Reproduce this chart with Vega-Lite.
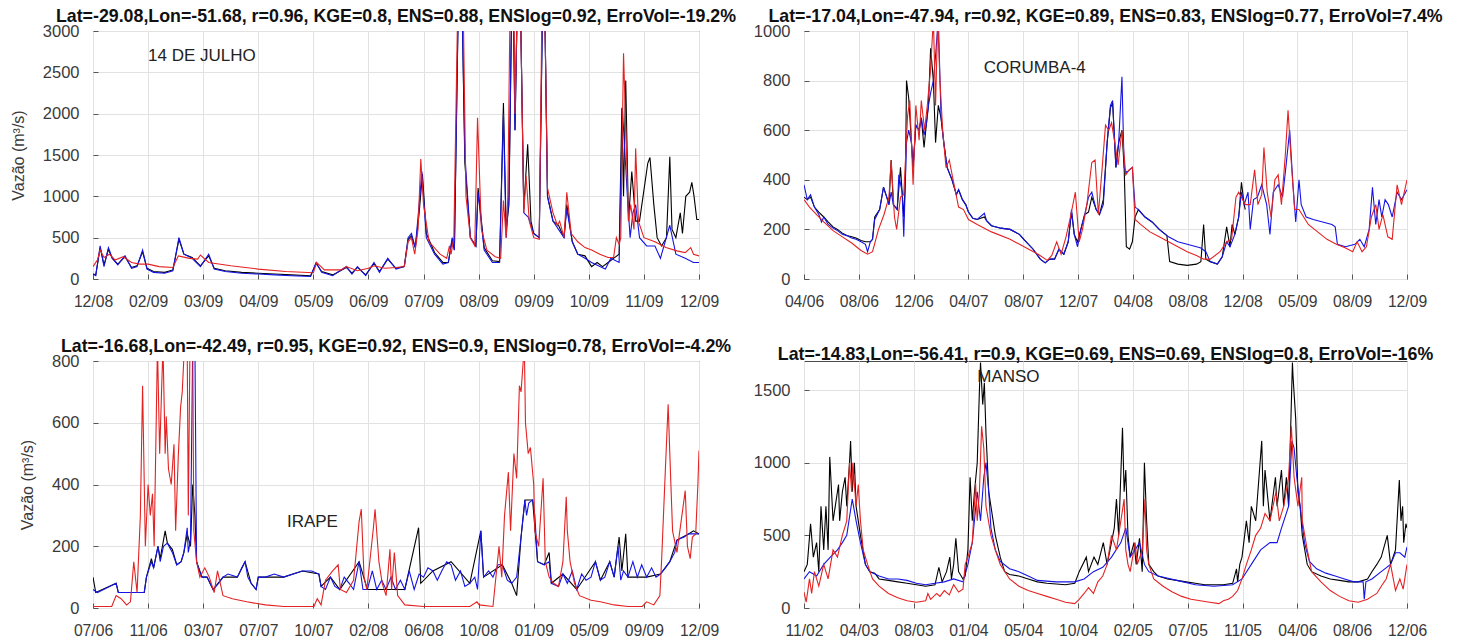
{
"$schema": "https://vega.github.io/schema/vega-lite/v6.json",
"padding": {"left": 9, "top": 7, "right": 0, "bottom": 0},
"background": "white",
"config": {
  "view": {"stroke": "#4a4a4a", "strokeWidth": 1},
  "mark": {"invalid": "filter"},
  "axis": {"gridColor": "#e2e2e2", "gridWidth": 1, "domain": false, "ticks": true, "tickSize": -5, "tickColor": "#555", "labelFont": "Liberation Sans", "labelColor": "#3a3a3a", "labelOverlap": false, "labelFlush": false, "titleFont": "Liberation Sans", "titleFontSize": 16, "titleFontWeight": "normal", "titleColor": "#3a3a3a"},
  "axisX": {"labelFontSize": 15.7, "labelPadding": 20},
  "axisY": {"labelFontSize": 16.5, "labelPadding": 19, "titlePadding": 16, "format": "d"},
  "title": {"font": "Liberation Sans", "fontSize": 17.8, "fontWeight": "bold", "color": "#111", "offset": -3},
  "line": {"strokeWidth": 1.1, "invalid": "filter"},
  "text": {"font": "Liberation Sans", "fontSize": 17, "color": "#222", "align": "left", "baseline": "middle"}
},
"datasets": {
"p1": [
{"t":0,"o":60},{"t":0.05,"o":50},{"t":0.13,"o":380},{"t":0.2,"o":170},{"t":0.28,"o":360},{"t":0.35,"o":250},{"t":0.45,"o":180},{"t":0.58,"o":270},{"t":0.7,"o":140},{"t":0.8,"o":160},{"t":0.9,"o":330},{"t":0.98,"o":130},{"t":1.1,"o":90},{"t":1.3,"o":80},{"t":1.45,"o":110},{"t":1.56,"o":480},{"t":1.65,"o":300},{"t":1.8,"o":260},{"t":1.95,"o":160},{"t":2.1,"o":280},{"t":2.2,"o":130},{"t":2.4,"o":100},{"t":2.7,"o":80},{"t":3.0,"o":70},{"t":3.3,"o":60},{"t":3.6,"o":50},{"t":3.95,"o":40},{"t":4.05,"o":190},{"t":4.15,"o":90},{"t":4.35,"o":50},{"t":4.6,"o":140},{"t":4.7,"o":70},{"t":4.8,"o":140},{"t":4.95,"o":50},{"t":5.1,"o":190},{"t":5.2,"o":90},{"t":5.35,"o":240},{"t":5.5,"o":130},{"t":5.65,"o":150},{"t":5.72,"o":480},{"t":5.78,"o":520},{"t":5.85,"o":380},{"t":5.92,"o":800},{"t":5.98,"o":1270},{"t":6.05,"o":550},{"t":6.2,"o":320},{"t":6.35,"o":200},{"t":6.45,"o":200},{"t":6.52,"o":480},{"t":6.56,"o":350},{"t":6.63,"o":3300},{"t":6.7,"o":3300},{"t":6.75,"o":1400},{"t":6.85,"o":500},{"t":6.95,"o":400},{"t":6.99,"o":1100},{"t":7.1,"o":380},{"t":7.25,"o":220},{"t":7.38,"o":210},{"t":7.45,"o":2130},{"t":7.5,"o":600},{"t":7.55,"o":900},{"t":7.6,"o":3300},{"t":7.63,"o":3300},{"t":7.66,"o":1800},{"t":7.7,"o":3300},{"t":7.76,"o":3300},{"t":7.82,"o":850},{"t":7.89,"o":1630},{"t":7.95,"o":700},{"t":8.0,"o":550},{"t":8.1,"o":500},{"t":8.16,"o":3300},{"t":8.2,"o":3300},{"t":8.25,"o":1000},{"t":8.35,"o":700},{"t":8.45,"o":650},{"t":8.55,"o":500},{"t":8.6,"o":900},{"t":8.7,"o":450},{"t":8.8,"o":300},{"t":8.93,"o":280},{"t":9.05,"o":150},{"t":9.15,"o":200},{"t":9.25,"o":150},{"t":9.35,"o":200},{"t":9.45,"o":250},{"t":9.55,"o":300},{"t":9.6,"o":2070},{"t":9.63,"o":1000},{"t":9.67,"o":2400},{"t":9.72,"o":700},{"t":9.78,"o":1300},{"t":9.85,"o":700},{"t":9.92,"o":700},{"t":10.07,"o":1400},{"t":10.11,"o":1470},{"t":10.18,"o":900},{"t":10.24,"o":500},{"t":10.32,"o":400},{"t":10.41,"o":500},{"t":10.47,"o":1480},{"t":10.51,"o":600},{"t":10.58,"o":500},{"t":10.66,"o":800},{"t":10.7,"o":550},{"t":10.76,"o":1000},{"t":10.83,"o":1050},{"t":10.87,"o":1170},{"t":10.91,"o":1000},{"t":10.96,"o":720},{"t":11,"o":720},
{"t":0,"b":60},{"t":0.05,"b":40},{"t":0.13,"b":400},{"t":0.2,"b":150},{"t":0.28,"b":380},{"t":0.35,"b":250},{"t":0.45,"b":170},{"t":0.58,"b":280},{"t":0.7,"b":130},{"t":0.8,"b":150},{"t":0.9,"b":350},{"t":0.98,"b":120},{"t":1.1,"b":80},{"t":1.3,"b":70},{"t":1.45,"b":100},{"t":1.56,"b":500},{"t":1.65,"b":300},{"t":1.8,"b":250},{"t":1.95,"b":150},{"t":2.1,"b":300},{"t":2.2,"b":120},{"t":2.4,"b":90},{"t":2.7,"b":70},{"t":3.0,"b":60},{"t":3.3,"b":50},{"t":3.6,"b":40},{"t":3.95,"b":30},{"t":4.05,"b":200},{"t":4.15,"b":80},{"t":4.35,"b":40},{"t":4.6,"b":150},{"t":4.7,"b":60},{"t":4.8,"b":150},{"t":4.95,"b":40},{"t":5.1,"b":200},{"t":5.2,"b":80},{"t":5.35,"b":250},{"t":5.5,"b":120},{"t":5.65,"b":150},{"t":5.72,"b":500},{"t":5.78,"b":550},{"t":5.85,"b":380},{"t":5.92,"b":900},{"t":5.97,"b":1300},{"t":6.05,"b":500},{"t":6.2,"b":300},{"t":6.35,"b":180},{"t":6.45,"b":200},{"t":6.52,"b":500},{"t":6.56,"b":350},{"t":6.63,"b":3300},{"t":6.7,"b":3300},{"t":6.75,"b":1500},{"t":6.85,"b":500},{"t":6.95,"b":400},{"t":6.99,"b":1050},{"t":7.1,"b":350},{"t":7.25,"b":200},{"t":7.38,"b":200},{"t":7.45,"b":2000},{"t":7.5,"b":500},{"t":7.55,"b":1000},{"t":7.6,"b":3300},{"t":7.63,"b":3300},{"t":7.66,"b":1800},{"t":7.7,"b":3300},{"t":7.76,"b":3300},{"t":7.82,"b":800},{"t":7.9,"b":750},{"t":8.0,"b":550},{"t":8.1,"b":500},{"t":8.16,"b":3300},{"t":8.2,"b":3300},{"t":8.25,"b":1000},{"t":8.35,"b":700},{"t":8.45,"b":600},{"t":8.55,"b":500},{"t":8.6,"b":850},{"t":8.7,"b":450},{"t":8.8,"b":300},{"t":8.93,"b":250},{"t":9.05,"b":200},{"t":9.2,"b":150},{"t":9.3,"b":120},{"t":9.4,"b":250},{"t":9.55,"b":200},{"t":9.61,"b":2050},{"t":9.7,"b":1000},{"t":9.75,"b":500},{"t":9.8,"b":800},{"t":9.85,"b":900},{"t":9.92,"b":500},{"t":10.05,"b":400},{"t":10.2,"b":400},{"t":10.3,"b":250},{"t":10.47,"b":650},{"t":10.58,"b":300},{"t":10.75,"b":250},{"t":10.9,"b":200},{"t":11,"b":200},
{"t":0,"r":150},{"t":0.08,"r":230},{"t":0.13,"r":350},{"t":0.2,"r":260},{"t":0.3,"r":300},{"t":0.4,"r":230},{"t":0.55,"r":270},{"t":0.7,"r":200},{"t":0.85,"r":180},{"t":1.0,"r":180},{"t":1.2,"r":150},{"t":1.45,"r":140},{"t":1.55,"r":280},{"t":1.75,"r":250},{"t":1.9,"r":240},{"t":1.95,"r":290},{"t":2.1,"r":200},{"t":2.5,"r":160},{"t":3.0,"r":120},{"t":3.5,"r":90},{"t":4.0,"r":75},{"t":4.06,"r":200},{"t":4.2,"r":110},{"t":4.5,"r":110},{"t":4.6,"r":150},{"t":4.8,"r":100},{"t":5.0,"r":130},{"t":5.1,"r":160},{"t":5.3,"r":130},{"t":5.5,"r":140},{"t":5.65,"r":150},{"t":5.72,"r":450},{"t":5.78,"r":500},{"t":5.84,"r":300},{"t":5.9,"r":600},{"t":5.95,"r":1450},{"t":6.0,"r":900},{"t":6.1,"r":450},{"t":6.3,"r":300},{"t":6.42,"r":250},{"t":6.47,"r":400},{"t":6.5,"r":300},{"t":6.55,"r":500},{"t":6.62,"r":3300},{"t":6.72,"r":3300},{"t":6.77,"r":1000},{"t":6.85,"r":500},{"t":6.93,"r":400},{"t":6.98,"r":1950},{"t":7.05,"r":600},{"t":7.15,"r":350},{"t":7.3,"r":270},{"t":7.4,"r":250},{"t":7.45,"r":950},{"t":7.5,"r":500},{"t":7.53,"r":1000},{"t":7.57,"r":3300},{"t":7.64,"r":3300},{"t":7.66,"r":2000},{"t":7.7,"r":3300},{"t":7.76,"r":3300},{"t":7.82,"r":800},{"t":7.86,"r":1250},{"t":7.92,"r":700},{"t":8.0,"r":500},{"t":8.1,"r":480},{"t":8.15,"r":3300},{"t":8.2,"r":3300},{"t":8.25,"r":1100},{"t":8.35,"r":800},{"t":8.43,"r":650},{"t":8.47,"r":700},{"t":8.55,"r":500},{"t":8.6,"r":1050},{"t":8.68,"r":550},{"t":8.8,"r":450},{"t":8.93,"r":380},{"t":9.05,"r":350},{"t":9.2,"r":300},{"t":9.35,"r":260},{"t":9.45,"r":260},{"t":9.5,"r":500},{"t":9.55,"r":420},{"t":9.58,"r":500},{"t":9.63,"r":2730},{"t":9.72,"r":700},{"t":9.76,"r":900},{"t":9.82,"r":600},{"t":9.85,"r":1580},{"t":9.9,"r":700},{"t":10.0,"r":500},{"t":10.2,"r":450},{"t":10.4,"r":380},{"t":10.6,"r":340},{"t":10.75,"r":320},{"t":10.85,"r":380},{"t":10.9,"r":300},{"t":11,"r":280}
],
"p2": [
{"t":0,"o":330},{"t":0.06,"o":320},{"t":0.12,"o":330},{"t":0.19,"o":290},{"t":0.27,"o":270},{"t":0.36,"o":250},{"t":0.44,"o":230},{"t":0.53,"o":210},{"t":0.61,"o":200},{"t":0.7,"o":185},{"t":0.78,"o":175},{"t":0.87,"o":170},{"t":0.95,"o":165},{"t":1.04,"o":155},{"t":1.12,"o":150},{"t":1.21,"o":150},{"t":1.25,"o":160},{"t":1.29,"o":250},{"t":1.38,"o":280},{"t":1.45,"o":370},{"t":1.51,"o":330},{"t":1.55,"o":300},{"t":1.59,"o":480},{"t":1.63,"o":300},{"t":1.7,"o":280},{"t":1.76,"o":450},{"t":1.79,"o":350},{"t":1.82,"o":250},{"t":1.85,"o":400},{"t":1.87,"o":800},{"t":1.91,"o":730},{"t":1.96,"o":550},{"t":1.99,"o":450},{"t":2.04,"o":620},{"t":2.1,"o":600},{"t":2.14,"o":650},{"t":2.19,"o":530},{"t":2.23,"o":620},{"t":2.27,"o":700},{"t":2.31,"o":930},{"t":2.36,"o":800},{"t":2.4,"o":550},{"t":2.45,"o":700},{"t":2.5,"o":650},{"t":2.55,"o":550},{"t":2.61,"o":450},{"t":2.7,"o":400},{"t":2.78,"o":340},{"t":2.82,"o":360},{"t":2.89,"o":320},{"t":2.95,"o":300},{"t":3.0,"o":270},{"t":3.08,"o":245},{"t":3.16,"o":240},{"t":3.29,"o":250},{"t":3.33,"o":235},{"t":3.42,"o":215},{"t":3.59,"o":205},{"t":3.76,"o":200},{"t":3.93,"o":180},{"t":4.01,"o":160},{"t":4.18,"o":120},{"t":4.31,"o":80},{"t":4.4,"o":65},{"t":4.48,"o":80},{"t":4.57,"o":80},{"t":4.65,"o":120},{"t":4.74,"o":100},{"t":4.82,"o":150},{"t":4.88,"o":270},{"t":4.93,"o":180},{"t":4.99,"o":150},{"t":5.05,"o":200},{"t":5.12,"o":260},{"t":5.19,"o":270},{"t":5.25,"o":330},{"t":5.33,"o":280},{"t":5.39,"o":260},{"t":5.46,"o":320},{"t":5.53,"o":550},{"t":5.59,"o":690},{"t":5.63,"o":710},{"t":5.69,"o":450},{"t":5.74,"o":550},{"t":5.8,"o":600},{"t":5.84,"o":450},{"t":5.88,"o":130},{"t":5.94,"o":120},{"t":5.99,"o":150},{"t":6.04,"o":250},{"t":6.1,"o":280},{"t":6.22,"o":250},{"t":6.35,"o":230},{"t":6.48,"o":200},{"t":6.62,"o":175},{"t":6.67,"o":70},{"t":6.82,"o":60},{"t":6.99,"o":55},{"t":7.16,"o":60},{"t":7.24,"o":70},{"t":7.29,"o":220},{"t":7.33,"o":80},{"t":7.41,"o":70},{"t":7.54,"o":60},{"t":7.63,"o":90},{"t":7.71,"o":210},{"t":7.77,"o":130},{"t":7.81,"o":220},{"t":7.86,"o":180},{"t":7.93,"o":250},{"t":7.98,"o":390},{"t":8.03,"o":300},{"t":8.05,"o":280},
{"t":0,"b":380},{"t":0.06,"b":320},{"t":0.12,"b":340},{"t":0.19,"b":290},{"t":0.27,"b":260},{"t":0.32,"b":230},{"t":0.36,"b":250},{"t":0.44,"b":220},{"t":0.53,"b":205},{"t":0.61,"b":195},{"t":0.7,"b":180},{"t":0.78,"b":175},{"t":0.87,"b":165},{"t":0.95,"b":160},{"t":1.04,"b":150},{"t":1.12,"b":140},{"t":1.16,"b":110},{"t":1.21,"b":150},{"t":1.25,"b":160},{"t":1.29,"b":240},{"t":1.38,"b":280},{"t":1.45,"b":370},{"t":1.51,"b":330},{"t":1.55,"b":300},{"t":1.59,"b":350},{"t":1.63,"b":300},{"t":1.7,"b":280},{"t":1.73,"b":420},{"t":1.79,"b":350},{"t":1.82,"b":170},{"t":1.85,"b":400},{"t":1.87,"b":550},{"t":1.91,"b":600},{"t":1.96,"b":550},{"t":1.99,"b":450},{"t":2.04,"b":620},{"t":2.1,"b":600},{"t":2.14,"b":650},{"t":2.19,"b":580},{"t":2.23,"b":620},{"t":2.27,"b":700},{"t":2.31,"b":750},{"t":2.36,"b":800},{"t":2.4,"b":900},{"t":2.45,"b":1050},{"t":2.5,"b":650},{"t":2.55,"b":550},{"t":2.61,"b":450},{"t":2.7,"b":400},{"t":2.78,"b":340},{"t":2.82,"b":360},{"t":2.89,"b":320},{"t":2.95,"b":300},{"t":3.0,"b":270},{"t":3.08,"b":245},{"t":3.16,"b":240},{"t":3.29,"b":265},{"t":3.33,"b":235},{"t":3.42,"b":215},{"t":3.59,"b":205},{"t":3.76,"b":200},{"t":3.93,"b":180},{"t":4.01,"b":160},{"t":4.18,"b":120},{"t":4.31,"b":80},{"t":4.4,"b":65},{"t":4.48,"b":80},{"t":4.57,"b":80},{"t":4.65,"b":120},{"t":4.74,"b":100},{"t":4.82,"b":150},{"t":4.88,"b":280},{"t":4.93,"b":180},{"t":4.99,"b":130},{"t":5.05,"b":200},{"t":5.12,"b":260},{"t":5.19,"b":330},{"t":5.25,"b":350},{"t":5.33,"b":280},{"t":5.39,"b":260},{"t":5.46,"b":300},{"t":5.53,"b":550},{"t":5.59,"b":700},{"t":5.63,"b":720},{"t":5.69,"b":450},{"t":5.74,"b":550},{"t":5.8,"b":815},{"t":5.84,"b":450},{"t":5.88,"b":430},{"t":5.94,"b":440},{"t":5.99,"b":450},{"t":6.04,"b":290},{"t":6.1,"b":280},{"t":6.22,"b":250},{"t":6.35,"b":230},{"t":6.48,"b":200},{"t":6.65,"b":170},{"t":6.82,"b":150},{"t":6.99,"b":140},{"t":7.16,"b":130},{"t":7.24,"b":125},{"t":7.33,"b":110},{"t":7.41,"b":70},{"t":7.54,"b":60},{"t":7.63,"b":90},{"t":7.71,"b":150},{"t":7.77,"b":130},{"t":7.86,"b":180},{"t":7.93,"b":250},{"t":7.98,"b":350},{"t":8.03,"b":300},{"t":8.1,"b":350},{"t":8.14,"b":200},{"t":8.2,"b":320},{"t":8.27,"b":330},{"t":8.35,"b":380},{"t":8.44,"b":300},{"t":8.5,"b":180},{"t":8.56,"b":350},{"t":8.65,"b":380},{"t":8.73,"b":330},{"t":8.79,"b":450},{"t":8.86,"b":600},{"t":8.92,"b":380},{"t":8.97,"b":230},{"t":9.03,"b":400},{"t":9.07,"b":300},{"t":9.16,"b":250},{"t":9.29,"b":240},{"t":9.46,"b":230},{"t":9.63,"b":220},{"t":9.69,"b":210},{"t":9.73,"b":140},{"t":9.88,"b":130},{"t":10.05,"b":140},{"t":10.14,"b":160},{"t":10.22,"b":130},{"t":10.31,"b":200},{"t":10.37,"b":370},{"t":10.43,"b":220},{"t":10.49,"b":320},{"t":10.54,"b":250},{"t":10.6,"b":320},{"t":10.66,"b":300},{"t":10.73,"b":250},{"t":10.82,"b":350},{"t":10.9,"b":320},{"t":11,"b":360},
{"t":0,"r":320},{"t":0.1,"r":290},{"t":0.23,"r":260},{"t":0.36,"r":230},{"t":0.53,"r":195},{"t":0.7,"r":170},{"t":0.87,"r":145},{"t":1.04,"r":115},{"t":1.16,"r":100},{"t":1.25,"r":110},{"t":1.36,"r":200},{"t":1.46,"r":260},{"t":1.55,"r":330},{"t":1.59,"r":480},{"t":1.65,"r":250},{"t":1.69,"r":200},{"t":1.76,"r":330},{"t":1.82,"r":340},{"t":1.89,"r":660},{"t":1.93,"r":720},{"t":1.99,"r":380},{"t":2.04,"r":700},{"t":2.1,"r":560},{"t":2.14,"r":720},{"t":2.2,"r":600},{"t":2.25,"r":700},{"t":2.31,"r":850},{"t":2.36,"r":1050},{"t":2.4,"r":700},{"t":2.44,"r":1050},{"t":2.48,"r":800},{"t":2.53,"r":600},{"t":2.59,"r":450},{"t":2.65,"r":480},{"t":2.72,"r":400},{"t":2.82,"r":290},{"t":2.91,"r":280},{"t":3.0,"r":240},{"t":3.16,"r":220},{"t":3.42,"r":190},{"t":3.76,"r":160},{"t":4.1,"r":120},{"t":4.27,"r":100},{"t":4.44,"r":75},{"t":4.52,"r":95},{"t":4.61,"r":150},{"t":4.69,"r":100},{"t":4.78,"r":170},{"t":4.86,"r":250},{"t":4.95,"r":350},{"t":5.02,"r":150},{"t":5.08,"r":200},{"t":5.16,"r":300},{"t":5.25,"r":470},{"t":5.31,"r":480},{"t":5.37,"r":260},{"t":5.44,"r":450},{"t":5.5,"r":620},{"t":5.56,"r":600},{"t":5.61,"r":630},{"t":5.67,"r":550},{"t":5.73,"r":460},{"t":5.8,"r":600},{"t":5.87,"r":420},{"t":5.93,"r":440},{"t":5.99,"r":450},{"t":6.04,"r":240},{"t":6.14,"r":220},{"t":6.31,"r":190},{"t":6.48,"r":170},{"t":6.65,"r":150},{"t":6.82,"r":130},{"t":6.99,"r":110},{"t":7.16,"r":95},{"t":7.29,"r":80},{"t":7.41,"r":80},{"t":7.59,"r":110},{"t":7.71,"r":150},{"t":7.8,"r":160},{"t":7.88,"r":330},{"t":7.93,"r":350},{"t":7.98,"r":330},{"t":8.05,"r":300},{"t":8.14,"r":300},{"t":8.22,"r":440},{"t":8.28,"r":300},{"t":8.35,"r":340},{"t":8.39,"r":530},{"t":8.45,"r":350},{"t":8.52,"r":250},{"t":8.59,"r":400},{"t":8.65,"r":420},{"t":8.71,"r":300},{"t":8.78,"r":500},{"t":8.83,"r":680},{"t":8.88,"r":500},{"t":8.95,"r":280},{"t":9.03,"r":280},{"t":9.2,"r":220},{"t":9.37,"r":190},{"t":9.54,"r":160},{"t":9.71,"r":140},{"t":9.88,"r":125},{"t":10.01,"r":110},{"t":10.09,"r":150},{"t":10.18,"r":110},{"t":10.26,"r":130},{"t":10.35,"r":250},{"t":10.43,"r":300},{"t":10.49,"r":200},{"t":10.56,"r":260},{"t":10.65,"r":170},{"t":10.73,"r":160},{"t":10.82,"r":380},{"t":10.9,"r":300},{"t":11,"r":400}
],
"p3": [
{"t":0,"o":100},{"t":0.05,"o":50},{"t":0.42,"o":80},{"t":0.46,"o":50},{"t":0.93,"o":50},{"t":0.97,"o":100},{"t":1.06,"o":160},{"t":1.1,"o":130},{"t":1.18,"o":200},{"t":1.22,"o":160},{"t":1.31,"o":250},{"t":1.35,"o":210},{"t":1.44,"o":190},{"t":1.52,"o":140},{"t":1.6,"o":150},{"t":1.65,"o":180},{"t":1.71,"o":240},{"t":1.77,"o":200},{"t":1.81,"o":400},{"t":1.85,"o":300},{"t":1.88,"o":150},{"t":1.98,"o":100},{"t":2.07,"o":100},{"t":2.18,"o":60},{"t":2.36,"o":100},{"t":2.62,"o":100},{"t":2.76,"o":150},{"t":2.87,"o":80},{"t":2.96,"o":60},{"t":3.0,"o":100},{"t":3.46,"o":100},{"t":3.8,"o":120},{"t":4.1,"o":110},{"t":4.14,"o":70},{"t":4.31,"o":100},{"t":4.48,"o":60},{"t":4.83,"o":150},{"t":4.98,"o":60},{"t":5.32,"o":60},{"t":5.66,"o":60},{"t":5.91,"o":260},{"t":5.95,"o":80},{"t":6.17,"o":120},{"t":6.5,"o":150},{"t":6.84,"o":80},{"t":7.04,"o":250},{"t":7.09,"o":100},{"t":7.43,"o":140},{"t":7.6,"o":80},{"t":7.69,"o":40},{"t":7.77,"o":230},{"t":7.84,"o":350},{"t":7.98,"o":350},{"t":8.07,"o":150},{"t":8.19,"o":140},{"t":8.28,"o":180},{"t":8.32,"o":80},{"t":8.53,"o":110},{"t":8.78,"o":60},{"t":9.12,"o":150},{"t":9.21,"o":90},{"t":9.38,"o":150},{"t":9.46,"o":100},{"t":9.55,"o":230},{"t":9.6,"o":120},{"t":9.67,"o":240},{"t":9.71,"o":100},{"t":10.05,"o":100},{"t":10.3,"o":110},{"t":10.47,"o":150},{"t":10.6,"o":220},{"t":10.81,"o":240},{"t":10.9,"o":250},{"t":11,"o":240},
{"t":0,"b":60},{"t":0.08,"b":50},{"t":0.42,"b":80},{"t":0.46,"b":50},{"t":0.93,"b":50},{"t":0.97,"b":100},{"t":1.06,"b":150},{"t":1.1,"b":130},{"t":1.18,"b":200},{"t":1.22,"b":150},{"t":1.28,"b":200},{"t":1.35,"b":210},{"t":1.44,"b":180},{"t":1.52,"b":140},{"t":1.6,"b":150},{"t":1.65,"b":180},{"t":1.71,"b":260},{"t":1.73,"b":180},{"t":1.77,"b":220},{"t":1.81,"b":850},{"t":1.85,"b":850},{"t":1.88,"b":150},{"t":1.93,"b":120},{"t":1.98,"b":100},{"t":2.07,"b":100},{"t":2.18,"b":60},{"t":2.28,"b":80},{"t":2.36,"b":100},{"t":2.45,"b":110},{"t":2.62,"b":100},{"t":2.7,"b":130},{"t":2.76,"b":150},{"t":2.81,"b":100},{"t":2.87,"b":80},{"t":2.96,"b":60},{"t":3.0,"b":100},{"t":3.13,"b":100},{"t":3.29,"b":110},{"t":3.46,"b":100},{"t":3.63,"b":110},{"t":3.8,"b":120},{"t":3.97,"b":120},{"t":4.1,"b":110},{"t":4.14,"b":70},{"t":4.22,"b":60},{"t":4.31,"b":100},{"t":4.39,"b":70},{"t":4.48,"b":60},{"t":4.56,"b":100},{"t":4.65,"b":80},{"t":4.73,"b":60},{"t":4.83,"b":150},{"t":4.9,"b":60},{"t":4.98,"b":60},{"t":5.07,"b":120},{"t":5.15,"b":60},{"t":5.24,"b":90},{"t":5.32,"b":60},{"t":5.41,"b":100},{"t":5.49,"b":60},{"t":5.58,"b":90},{"t":5.66,"b":60},{"t":5.74,"b":120},{"t":5.83,"b":60},{"t":5.92,"b":110},{"t":6.0,"b":100},{"t":6.08,"b":130},{"t":6.17,"b":120},{"t":6.25,"b":90},{"t":6.33,"b":120},{"t":6.42,"b":150},{"t":6.5,"b":140},{"t":6.58,"b":90},{"t":6.67,"b":120},{"t":6.75,"b":70},{"t":6.84,"b":80},{"t":6.93,"b":100},{"t":6.98,"b":60},{"t":7.04,"b":250},{"t":7.09,"b":100},{"t":7.18,"b":120},{"t":7.26,"b":100},{"t":7.35,"b":140},{"t":7.43,"b":140},{"t":7.52,"b":90},{"t":7.6,"b":80},{"t":7.69,"b":100},{"t":7.77,"b":230},{"t":7.84,"b":350},{"t":7.87,"b":300},{"t":7.91,"b":340},{"t":7.98,"b":350},{"t":8.02,"b":300},{"t":8.07,"b":150},{"t":8.19,"b":140},{"t":8.28,"b":150},{"t":8.32,"b":80},{"t":8.45,"b":70},{"t":8.53,"b":110},{"t":8.61,"b":80},{"t":8.7,"b":120},{"t":8.78,"b":60},{"t":8.87,"b":110},{"t":8.95,"b":90},{"t":9.04,"b":100},{"t":9.12,"b":150},{"t":9.21,"b":90},{"t":9.29,"b":100},{"t":9.38,"b":150},{"t":9.46,"b":100},{"t":9.53,"b":200},{"t":9.58,"b":90},{"t":9.63,"b":120},{"t":9.71,"b":100},{"t":9.8,"b":150},{"t":9.88,"b":100},{"t":9.96,"b":140},{"t":10.05,"b":100},{"t":10.14,"b":130},{"t":10.22,"b":100},{"t":10.3,"b":110},{"t":10.39,"b":130},{"t":10.47,"b":150},{"t":10.56,"b":180},{"t":10.6,"b":220},{"t":10.73,"b":230},{"t":10.81,"b":240},{"t":10.9,"b":240},{"t":11,"b":240},
{"t":0,"r":5},{"t":0.34,"r":5},{"t":0.42,"r":40},{"t":0.51,"r":30},{"t":0.61,"r":10},{"t":0.68,"r":20},{"t":0.74,"r":150},{"t":0.8,"r":50},{"t":0.86,"r":300},{"t":0.9,"r":720},{"t":0.95,"r":200},{"t":1.0,"r":400},{"t":1.04,"r":300},{"t":1.08,"r":370},{"t":1.11,"r":200},{"t":1.17,"r":850},{"t":1.21,"r":500},{"t":1.27,"r":850},{"t":1.31,"r":500},{"t":1.33,"r":620},{"t":1.37,"r":450},{"t":1.42,"r":400},{"t":1.47,"r":530},{"t":1.5,"r":250},{"t":1.55,"r":500},{"t":1.59,"r":650},{"t":1.62,"r":700},{"t":1.66,"r":850},{"t":1.71,"r":850},{"t":1.73,"r":300},{"t":1.76,"r":850},{"t":1.81,"r":850},{"t":1.83,"r":250},{"t":1.88,"r":150},{"t":1.94,"r":100},{"t":2.03,"r":130},{"t":2.11,"r":100},{"t":2.2,"r":50},{"t":2.26,"r":120},{"t":2.36,"r":40},{"t":2.53,"r":30},{"t":2.79,"r":20},{"t":3.13,"r":10},{"t":3.46,"r":5},{"t":4.01,"r":5},{"t":4.07,"r":30},{"t":4.14,"r":10},{"t":4.22,"r":90},{"t":4.35,"r":120},{"t":4.45,"r":140},{"t":4.49,"r":60},{"t":4.6,"r":50},{"t":4.73,"r":90},{"t":4.83,"r":280},{"t":4.87,"r":320},{"t":4.92,"r":100},{"t":4.97,"r":60},{"t":5.09,"r":260},{"t":5.12,"r":320},{"t":5.19,"r":150},{"t":5.25,"r":80},{"t":5.32,"r":40},{"t":5.39,"r":190},{"t":5.42,"r":60},{"t":5.47,"r":180},{"t":5.53,"r":40},{"t":5.66,"r":10},{"t":6.0,"r":5},{"t":6.84,"r":5},{"t":6.97,"r":20},{"t":7.01,"r":10},{"t":7.26,"r":5},{"t":7.37,"r":200},{"t":7.42,"r":100},{"t":7.47,"r":300},{"t":7.54,"r":440},{"t":7.58,"r":250},{"t":7.64,"r":500},{"t":7.69,"r":420},{"t":7.74,"r":720},{"t":7.77,"r":700},{"t":7.83,"r":850},{"t":7.85,"r":600},{"t":7.9,"r":500},{"t":7.94,"r":520},{"t":8.0,"r":400},{"t":8.02,"r":250},{"t":8.09,"r":200},{"t":8.17,"r":420},{"t":8.21,"r":150},{"t":8.28,"r":100},{"t":8.36,"r":80},{"t":8.45,"r":70},{"t":8.53,"r":150},{"t":8.59,"r":360},{"t":8.61,"r":250},{"t":8.66,"r":150},{"t":8.74,"r":80},{"t":8.83,"r":40},{"t":9.04,"r":25},{"t":9.21,"r":20},{"t":9.46,"r":10},{"t":9.71,"r":5},{"t":9.97,"r":5},{"t":10.05,"r":20},{"t":10.18,"r":10},{"t":10.29,"r":40},{"t":10.32,"r":150},{"t":10.39,"r":450},{"t":10.44,"r":660},{"t":10.47,"r":500},{"t":10.52,"r":250},{"t":10.6,"r":180},{"t":10.75,"r":380},{"t":10.79,"r":200},{"t":10.84,"r":160},{"t":10.88,"r":230},{"t":10.94,"r":240},{"t":10.98,"r":400},{"t":11,"r":510}
],
"p4": [
{"t":0,"o":250},{"t":0.06,"o":300},{"t":0.12,"o":580},{"t":0.17,"o":350},{"t":0.23,"o":450},{"t":0.27,"o":250},{"t":0.31,"o":700},{"t":0.36,"o":400},{"t":0.4,"o":700},{"t":0.44,"o":400},{"t":0.47,"o":1040},{"t":0.53,"o":600},{"t":0.57,"o":700},{"t":0.63,"o":850},{"t":0.65,"o":600},{"t":0.7,"o":800},{"t":0.75,"o":900},{"t":0.78,"o":700},{"t":0.83,"o":1000},{"t":0.85,"o":1150},{"t":0.88,"o":800},{"t":0.92,"o":1000},{"t":0.95,"o":700},{"t":0.99,"o":600},{"t":1.03,"o":500},{"t":1.12,"o":300},{"t":1.2,"o":250},{"t":1.29,"o":240},{"t":1.37,"o":200},{"t":1.54,"o":190},{"t":1.71,"o":180},{"t":1.88,"o":170},{"t":2.05,"o":160},{"t":2.22,"o":150},{"t":2.39,"o":160},{"t":2.46,"o":280},{"t":2.52,"o":180},{"t":2.6,"o":250},{"t":2.66,"o":350},{"t":2.69,"o":200},{"t":2.73,"o":300},{"t":2.77,"o":480},{"t":2.82,"o":250},{"t":2.9,"o":200},{"t":2.94,"o":220},{"t":2.99,"o":400},{"t":3.03,"o":900},{"t":3.07,"o":600},{"t":3.11,"o":800},{"t":3.16,"o":1000},{"t":3.2,"o":1500},{"t":3.22,"o":1690},{"t":3.26,"o":1400},{"t":3.29,"o":1550},{"t":3.32,"o":1200},{"t":3.37,"o":800},{"t":3.41,"o":700},{"t":3.49,"o":500},{"t":3.58,"o":350},{"t":3.66,"o":250},{"t":3.75,"o":230},{"t":3.92,"o":220},{"t":4.09,"o":200},{"t":4.26,"o":180},{"t":4.43,"o":170},{"t":4.6,"o":165},{"t":4.77,"o":160},{"t":4.94,"o":170},{"t":5.02,"o":250},{"t":5.15,"o":350},{"t":5.19,"o":250},{"t":5.29,"o":350},{"t":5.36,"o":300},{"t":5.46,"o":450},{"t":5.53,"o":300},{"t":5.66,"o":550},{"t":5.7,"o":750},{"t":5.74,"o":500},{"t":5.81,"o":1240},{"t":5.84,"o":800},{"t":5.87,"o":950},{"t":5.91,"o":500},{"t":5.95,"o":350},{"t":6.02,"o":450},{"t":6.06,"o":300},{"t":6.12,"o":480},{"t":6.17,"o":250},{"t":6.21,"o":1000},{"t":6.25,"o":600},{"t":6.29,"o":300},{"t":6.38,"o":250},{"t":6.46,"o":220},{"t":6.63,"o":200},{"t":6.8,"o":190},{"t":6.97,"o":180},{"t":7.14,"o":170},{"t":7.31,"o":160},{"t":7.48,"o":160},{"t":7.65,"o":160},{"t":7.82,"o":170},{"t":7.89,"o":270},{"t":7.91,"o":180},{"t":7.95,"o":300},{"t":7.99,"o":350},{"t":8.07,"o":600},{"t":8.12,"o":450},{"t":8.16,"o":700},{"t":8.24,"o":600},{"t":8.35,"o":1150},{"t":8.38,"o":700},{"t":8.41,"o":950},{"t":8.5,"o":600},{"t":8.6,"o":900},{"t":8.63,"o":700},{"t":8.71,"o":950},{"t":8.75,"o":700},{"t":8.8,"o":900},{"t":8.84,"o":700},{"t":8.91,"o":1690},{"t":8.92,"o":1600},{"t":8.97,"o":1300},{"t":9.01,"o":800},{"t":9.05,"o":700},{"t":9.09,"o":500},{"t":9.18,"o":300},{"t":9.26,"o":250},{"t":9.43,"o":220},{"t":9.6,"o":200},{"t":9.77,"o":190},{"t":9.94,"o":180},{"t":10.11,"o":180},{"t":10.28,"o":200},{"t":10.36,"o":250},{"t":10.45,"o":300},{"t":10.53,"o":350},{"t":10.64,"o":500},{"t":10.7,"o":300},{"t":10.79,"o":400},{"t":10.86,"o":880},{"t":10.89,"o":600},{"t":10.92,"o":700},{"t":10.94,"o":450},{"t":10.98,"o":580},{"t":11,"o":550},
{"t":0,"b":200},{"t":0.1,"b":250},{"t":0.23,"b":220},{"t":0.36,"b":300},{"t":0.48,"b":350},{"t":0.61,"b":400},{"t":0.7,"b":450},{"t":0.78,"b":500},{"t":0.88,"b":750},{"t":0.95,"b":600},{"t":1.03,"b":450},{"t":1.12,"b":300},{"t":1.2,"b":250},{"t":1.37,"b":220},{"t":1.54,"b":200},{"t":1.71,"b":200},{"t":1.88,"b":190},{"t":2.05,"b":170},{"t":2.22,"b":160},{"t":2.39,"b":170},{"t":2.56,"b":180},{"t":2.73,"b":200},{"t":2.9,"b":180},{"t":2.99,"b":300},{"t":3.07,"b":450},{"t":3.16,"b":800},{"t":3.22,"b":600},{"t":3.28,"b":900},{"t":3.32,"b":1000},{"t":3.37,"b":800},{"t":3.41,"b":550},{"t":3.49,"b":400},{"t":3.58,"b":320},{"t":3.75,"b":270},{"t":3.92,"b":250},{"t":4.09,"b":220},{"t":4.26,"b":190},{"t":4.6,"b":180},{"t":4.94,"b":180},{"t":5.11,"b":200},{"t":5.28,"b":250},{"t":5.45,"b":280},{"t":5.61,"b":350},{"t":5.78,"b":450},{"t":5.87,"b":550},{"t":5.95,"b":350},{"t":6.04,"b":400},{"t":6.12,"b":450},{"t":6.21,"b":300},{"t":6.29,"b":250},{"t":6.46,"b":220},{"t":6.8,"b":190},{"t":7.14,"b":160},{"t":7.48,"b":150},{"t":7.82,"b":160},{"t":7.99,"b":200},{"t":8.16,"b":300},{"t":8.33,"b":400},{"t":8.5,"b":450},{"t":8.63,"b":450},{"t":8.71,"b":550},{"t":8.84,"b":700},{"t":8.9,"b":1150},{"t":8.94,"b":1100},{"t":8.99,"b":900},{"t":9.05,"b":700},{"t":9.13,"b":450},{"t":9.22,"b":320},{"t":9.35,"b":270},{"t":9.52,"b":240},{"t":9.69,"b":220},{"t":9.86,"b":200},{"t":10.03,"b":180},{"t":10.2,"b":180},{"t":10.22,"b":60},{"t":10.25,"b":180},{"t":10.36,"b":200},{"t":10.53,"b":250},{"t":10.7,"b":300},{"t":10.79,"b":380},{"t":10.87,"b":380},{"t":10.96,"b":350},{"t":11,"b":420},
{"t":0,"r":110},{"t":0.04,"r":40},{"t":0.1,"r":200},{"t":0.14,"r":100},{"t":0.19,"r":250},{"t":0.27,"r":150},{"t":0.36,"r":300},{"t":0.44,"r":200},{"t":0.53,"r":400},{"t":0.61,"r":350},{"t":0.7,"r":500},{"t":0.78,"r":600},{"t":0.83,"r":1000},{"t":0.87,"r":800},{"t":0.89,"r":1000},{"t":0.95,"r":700},{"t":0.99,"r":850},{"t":1.03,"r":600},{"t":1.08,"r":400},{"t":1.16,"r":300},{"t":1.25,"r":200},{"t":1.37,"r":150},{"t":1.54,"r":100},{"t":1.71,"r":70},{"t":1.88,"r":50},{"t":2.05,"r":40},{"t":2.22,"r":50},{"t":2.26,"r":100},{"t":2.31,"r":60},{"t":2.42,"r":100},{"t":2.48,"r":80},{"t":2.56,"r":120},{"t":2.65,"r":90},{"t":2.73,"r":160},{"t":2.82,"r":110},{"t":2.9,"r":130},{"t":2.94,"r":300},{"t":2.99,"r":350},{"t":3.07,"r":450},{"t":3.13,"r":860},{"t":3.16,"r":600},{"t":3.2,"r":800},{"t":3.24,"r":1250},{"t":3.28,"r":1100},{"t":3.32,"r":700},{"t":3.41,"r":500},{"t":3.49,"r":400},{"t":3.58,"r":300},{"t":3.75,"r":200},{"t":3.92,"r":150},{"t":4.09,"r":120},{"t":4.26,"r":100},{"t":4.43,"r":80},{"t":4.6,"r":60},{"t":4.77,"r":40},{"t":4.94,"r":30},{"t":5.02,"r":60},{"t":5.11,"r":100},{"t":5.19,"r":140},{"t":5.28,"r":100},{"t":5.36,"r":180},{"t":5.45,"r":220},{"t":5.53,"r":300},{"t":5.61,"r":500},{"t":5.7,"r":400},{"t":5.78,"r":600},{"t":5.84,"r":750},{"t":5.87,"r":400},{"t":5.91,"r":300},{"t":5.95,"r":250},{"t":6.04,"r":450},{"t":6.08,"r":300},{"t":6.17,"r":400},{"t":6.22,"r":750},{"t":6.25,"r":400},{"t":6.29,"r":300},{"t":6.38,"r":200},{"t":6.55,"r":150},{"t":6.72,"r":110},{"t":6.89,"r":80},{"t":7.06,"r":60},{"t":7.23,"r":50},{"t":7.4,"r":40},{"t":7.57,"r":30},{"t":7.65,"r":50},{"t":7.74,"r":60},{"t":7.82,"r":80},{"t":7.91,"r":120},{"t":7.99,"r":200},{"t":8.07,"r":300},{"t":8.16,"r":400},{"t":8.24,"r":500},{"t":8.33,"r":550},{"t":8.41,"r":650},{"t":8.5,"r":600},{"t":8.61,"r":800},{"t":8.67,"r":600},{"t":8.75,"r":700},{"t":8.84,"r":900},{"t":8.89,"r":1250},{"t":8.94,"r":900},{"t":9.01,"r":700},{"t":9.08,"r":900},{"t":9.09,"r":600},{"t":9.18,"r":400},{"t":9.26,"r":250},{"t":9.43,"r":180},{"t":9.6,"r":120},{"t":9.77,"r":80},{"t":9.94,"r":50},{"t":10.11,"r":40},{"t":10.28,"r":60},{"t":10.36,"r":80},{"t":10.45,"r":100},{"t":10.53,"r":150},{"t":10.62,"r":200},{"t":10.7,"r":300},{"t":10.79,"r":120},{"t":10.87,"r":200},{"t":10.93,"r":130},{"t":11,"r":300}
]
},
"concat": [
{
  "title": "Lat=-29.08,Lon=-51.68, r=0.96, KGE=0.8, ENS=0.88, ENSlog=0.92, ErroVol=-19.2%",
  "width": 606, "height": 248,
  "data": {"name": "p1"},
  "encoding": {"x": {"field": "t", "type": "quantitative", "scale": {"domain": [0, 11], "nice": false, "zero": false}, "axis": {"values": [0,1,2,3,4,5,6,7,8,9,10,11], "labelExpr": "['12/08','02/09','03/09','04/09','05/09','06/09','07/09','08/09','09/09','10/09','11/09','12/09'][datum.value]", "title": null}}},
  "layer": [
    {"mark": {"type": "line", "color": "#000000", "clip": true}, "encoding": {"y": {"field": "o", "type": "quantitative", "title": "Vazão (m³/s)", "scale": {"domain": [0, 3000], "nice": false}, "axis": {"values": [0,500,1000,1500,2000,2500,3000]}}}},
    {"mark": {"type": "line", "color": "#1414e6", "clip": true}, "encoding": {"y": {"field": "b", "type": "quantitative", "title": "Vazão (m³/s)", "scale": {"domain": [0, 3000], "nice": false}}}},
    {"mark": {"type": "line", "color": "#e42222", "clip": true}, "encoding": {"y": {"field": "r", "type": "quantitative", "title": "Vazão (m³/s)", "scale": {"domain": [0, 3000], "nice": false}}}},
    {"data": {"values": [{"t": 1.0, "v": 2700, "label": "14 DE JULHO"}]}, "mark": {"type": "text"}, "encoding": {"y": {"field": "v", "type": "quantitative", "title": "Vazão (m³/s)", "scale": {"domain": [0, 3000], "nice": false}}, "text": {"field": "label"}}}
  ]
},
{
  "title": "Lat=-17.04,Lon=-47.94, r=0.92, KGE=0.89, ENS=0.83, ENSlog=0.77, ErroVol=7.4%",
  "width": 603, "height": 248,
  "data": {"name": "p2"},
  "encoding": {"x": {"field": "t", "type": "quantitative", "scale": {"domain": [0, 11], "nice": false, "zero": false}, "axis": {"values": [0,1,2,3,4,5,6,7,8,9,10,11], "labelExpr": "['04/06','08/06','12/06','04/07','08/07','12/07','04/08','08/08','12/08','05/09','08/09','12/09'][datum.value]", "title": null}}},
  "layer": [
    {"mark": {"type": "line", "color": "#000000", "clip": true}, "encoding": {"y": {"field": "o", "type": "quantitative", "title": null, "scale": {"domain": [0, 1000], "nice": false}, "axis": {"values": [0,200,400,600,800,1000]}}}},
    {"mark": {"type": "line", "color": "#1414e6", "clip": true}, "encoding": {"y": {"field": "b", "type": "quantitative", "title": null, "scale": {"domain": [0, 1000], "nice": false}}}},
    {"mark": {"type": "line", "color": "#e42222", "clip": true}, "encoding": {"y": {"field": "r", "type": "quantitative", "title": null, "scale": {"domain": [0, 1000], "nice": false}}}},
    {"data": {"values": [{"t": 3.28, "v": 850, "label": "CORUMBA-4"}]}, "mark": {"type": "text"}, "encoding": {"y": {"field": "v", "type": "quantitative", "title": null, "scale": {"domain": [0, 1000], "nice": false}}, "text": {"field": "label"}}}
  ]
},
{
  "title": "Lat=-16.68,Lon=-42.49, r=0.95, KGE=0.92, ENS=0.9, ENSlog=0.78, ErroVol=-4.2%",
  "width": 606, "height": 247,
  "data": {"name": "p3"},
  "encoding": {"x": {"field": "t", "type": "quantitative", "scale": {"domain": [0, 11], "nice": false, "zero": false}, "axis": {"values": [0,1,2,3,4,5,6,7,8,9,10,11], "labelExpr": "['07/06','11/06','03/07','07/07','10/07','02/08','06/08','10/08','01/09','05/09','09/09','12/09'][datum.value]", "title": null}}},
  "layer": [
    {"mark": {"type": "line", "color": "#000000", "clip": true}, "encoding": {"y": {"field": "o", "type": "quantitative", "title": "Vazão (m³/s)", "scale": {"domain": [0, 800], "nice": false}, "axis": {"values": [0,200,400,600,800]}}}},
    {"mark": {"type": "line", "color": "#1414e6", "clip": true}, "encoding": {"y": {"field": "b", "type": "quantitative", "title": "Vazão (m³/s)", "scale": {"domain": [0, 800], "nice": false}}}},
    {"mark": {"type": "line", "color": "#e42222", "clip": true}, "encoding": {"y": {"field": "r", "type": "quantitative", "title": "Vazão (m³/s)", "scale": {"domain": [0, 800], "nice": false}}}},
    {"data": {"values": [{"t": 3.52, "v": 278, "label": "IRAPE"}]}, "mark": {"type": "text"}, "encoding": {"y": {"field": "v", "type": "quantitative", "title": "Vazão (m³/s)", "scale": {"domain": [0, 800], "nice": false}}, "text": {"field": "label"}}}
  ]
},
{
  "title": "Lat=-14.83,Lon=-56.41, r=0.9, KGE=0.69, ENS=0.69, ENSlog=0.8, ErroVol=-16%",
  "width": 603, "height": 247,
  "data": {"name": "p4"},
  "encoding": {"x": {"field": "t", "type": "quantitative", "scale": {"domain": [0, 11], "nice": false, "zero": false}, "axis": {"values": [0,1,2,3,4,5,6,7,8,9,10,11], "labelExpr": "['11/02','04/03','08/03','01/04','05/04','10/04','02/05','07/05','11/05','04/06','08/06','12/06'][datum.value]", "title": null}}},
  "layer": [
    {"mark": {"type": "line", "color": "#000000", "clip": true}, "encoding": {"y": {"field": "o", "type": "quantitative", "title": null, "scale": {"domain": [0, 1700], "nice": false}, "axis": {"values": [0,500,1000,1500]}}}},
    {"mark": {"type": "line", "color": "#1414e6", "clip": true}, "encoding": {"y": {"field": "b", "type": "quantitative", "title": null, "scale": {"domain": [0, 1700], "nice": false}}}},
    {"mark": {"type": "line", "color": "#e42222", "clip": true}, "encoding": {"y": {"field": "r", "type": "quantitative", "title": null, "scale": {"domain": [0, 1700], "nice": false}}}},
    {"data": {"values": [{"t": 3.16, "v": 1590, "label": "MANSO"}]}, "mark": {"type": "text"}, "encoding": {"y": {"field": "v", "type": "quantitative", "title": null, "scale": {"domain": [0, 1700], "nice": false}}, "text": {"field": "label"}}}
  ]
}
],
"columns": 2,
"bounds": "flush",
"spacing": {"row": 82, "column": 105}
}
